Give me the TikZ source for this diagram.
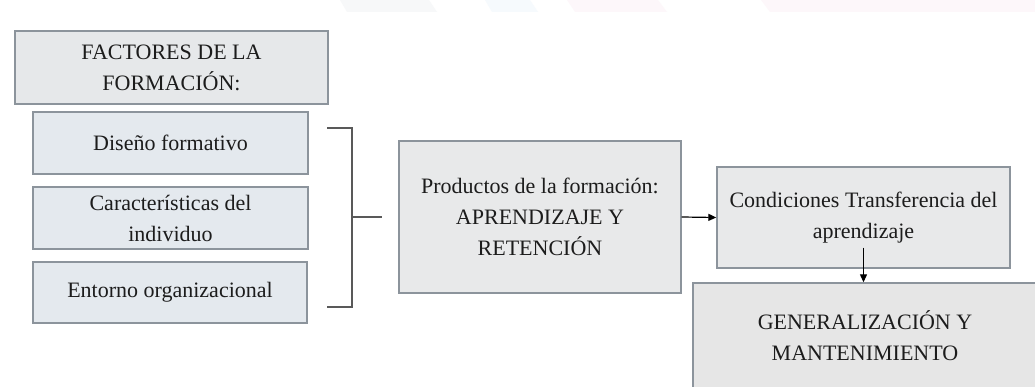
\documentclass[tikz,border=0pt]{standalone}
\usepackage{fontspec}
\setmainfont{Liberation Serif}
\usetikzlibrary{arrows.meta}
\definecolor{boxline}{HTML}{8C949C}
\definecolor{txt}{HTML}{1C1C1C}
\definecolor{fillA}{HTML}{E6E8EA}
\definecolor{fillB}{HTML}{E4E9EE}
\definecolor{fillC}{HTML}{E8E9EA}
\definecolor{fillD}{HTML}{E6E6E6}
\definecolor{wmA}{HTML}{F7F8F9}
\definecolor{wmB}{HTML}{F6FAFD}
\definecolor{wmC}{HTML}{FDF7FA}
\tikzset{
  box/.style={draw=boxline, line width=1.4pt, inner sep=0pt, align=center,
    text=txt, font=\fontsize{22}{31}\selectfont},
  brk/.style={draw=black!65, line width=1.8pt},
  arr/.style={draw=black, line width=1.2pt, -{Triangle[length=8pt,width=7pt]}},
  wm/.style={draw=none}
}
\begin{document}
\begin{tikzpicture}[x=1pt,y=-1pt]
\useasboundingbox[fill=white] (0,0) rectangle (1035,387);
% faint watermark bands
\fill[wmA] (340,0) -- (429,0) -- (437,12) -- (347,12) -- cycle;
\fill[wmB] (485,0) -- (530,0) -- (538,12) -- (492,12) -- cycle;
\fill[wmC] (567,0) -- (658,0) -- (667,12) -- (575,12) -- cycle;
\fill[wmC] (761,0) -- (1035,0) -- (1035,12) -- (770,12) -- cycle;
% boxes
\node[box, fill=fillA, minimum width=313pt, minimum height=73pt] (fact) at (171.5,67.5) {FACTORES DE LA\\FORMACIÓN:};
\node[box, fill=fillB, minimum width=275pt, minimum height=62pt] (dis) at (170.5,143) {Diseño formativo};
\node[box, fill=fillB, minimum width=275pt, minimum height=62pt] (car) at (170.5,218) {Características del\\individuo};
\node[box, fill=fillB, minimum width=274pt, minimum height=61pt] (ent) at (170,292.5) {Entorno organizacional};
\node[box, fill=fillC, minimum width=282pt, minimum height=152pt] (prod) at (540,217) {Productos de la formación:\\APRENDIZAJE Y\\RETENCIÓN};
\node[box, fill=fillC, minimum width=293pt, minimum height=101pt] (cond) at (863.5,217.5) {Condiciones Transferencia del\\aprendizaje};
\node[box, fill=fillD, minimum width=344pt, minimum height=106pt] (gen) at (865,336) {GENERALIZACIÓN Y\\MANTENIMIENTO};
% bracket
\coordinate (bt) at (327,128);
\coordinate (bb) at (327,307);
\coordinate (bm) at (352,217);
\coordinate (be) at (382,217);
\draw[brk] (bt) -- (bt -| bm) -- (bb -| bm) -- (bb);
\draw[brk] (bm) -- (be);
% arrows
\draw[arr] (prod.east) -- (cond.west);
\coordinate (cs) at ([yshift=21pt]cond.south);
\draw[arr] (cs) -- (cs |- gen.north);
\end{tikzpicture}
\end{document}
